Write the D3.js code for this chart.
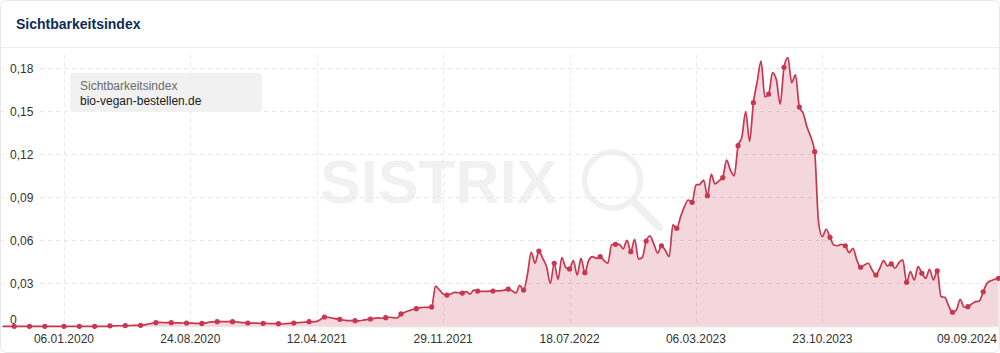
<!DOCTYPE html>
<html lang="de">
<head>
<meta charset="utf-8">
<title>Sichtbarkeitsindex</title>
<script src="https://cdn.jsdelivr.net/npm/d3@7"></script>
<style>
  body { margin: 0; background: #fff; }
  svg { display: block; font-family: "Liberation Sans", Arial, sans-serif; }
</style>
</head>
<body>
<svg id="chart"></svg>
<script>

// weekly Sichtbarkeitsindex values, first week = firstWeek
const firstWeek = "16.09.2019";
const weeklyIndex = [
  0, 0, 0, 0, 0, 0, 0, 0, 0, 0, 0, 0, 0, 0, 0, 0,
  0, 0, 0, 0, 0, 0, 0, 0, 0, 0, 0, 0,
  0.0003, 0.0003, 0.0004, 0.0004,
  0.0005, 0.0005, 0.0006, 0.0006,
  0.0007, 0.0010, 0.0015, 0.0021,
  0.0025, 0.0027, 0.0026, 0.0025,
  0.0025, 0.0024, 0.0024, 0.0023,
  0.0023, 0.0022, 0.0021, 0.0020,
  0.0020, 0.0024, 0.0029, 0.0031,
  0.0032, 0.0033, 0.0032, 0.0032,
  0.0032, 0.0030, 0.0027, 0.0025,
  0.0023, 0.0022, 0.0022, 0.0021,
  0.0021, 0.0020, 0.0019, 0.0018,
  0.0018, 0.0016, 0.0019, 0.0021,
  0.0023, 0.0026, 0.0028, 0.0029,
  0.0032, 0.0031, 0.0034, 0.0048,
  0.0065, 0.0063, 0.0058, 0.0052,
  0.0049, 0.0043, 0.0040, 0.0039,
  0.0039, 0.0038, 0.0042, 0.0047,
  0.0051, 0.0055, 0.0059, 0.0056,
  0.0060, 0.0063, 0.0060, 0.0058,
  0.0086, 0.0098, 0.0108, 0.0117,
  0.0123, 0.0130, 0.0133, 0.0132,
  0.0135, 0.0280, 0.0255, 0.0225,
  0.0218, 0.0225, 0.0236, 0.0234,
  0.0232, 0.0242, 0.0225, 0.0252,
  0.0246, 0.0244, 0.0243, 0.0245,
  0.0246, 0.0247, 0.0249, 0.0252,
  0.0260, 0.0248, 0.0232, 0.0285,
  0.0253, 0.0360, 0.0516, 0.0440,
  0.0525, 0.0474, 0.0416, 0.0300,
  0.0440, 0.0328, 0.0480, 0.0410,
  0.0400, 0.0458, 0.0358, 0.0474,
  0.0374, 0.0460, 0.0486, 0.0474,
  0.0486, 0.0458, 0.0440, 0.0570,
  0.0572, 0.0572, 0.0540, 0.0600,
  0.0520, 0.0607, 0.0470, 0.0480,
  0.0595, 0.0630, 0.0575, 0.0510,
  0.0562, 0.0530, 0.0486, 0.0707,
  0.0684, 0.0765, 0.0835, 0.0881,
  0.0865, 0.0986, 0.0990, 0.1020,
  0.0911, 0.1060, 0.0993, 0.1015,
  0.1037, 0.1160, 0.1090, 0.1050,
  0.1260, 0.1320, 0.1498, 0.1290,
  0.1560, 0.1707, 0.1850, 0.1600,
  0.1620, 0.1770, 0.1720, 0.1550,
  0.1807, 0.1875, 0.1700, 0.1754,
  0.1530, 0.1486, 0.1390, 0.1320,
  0.1218, 0.0730, 0.0625, 0.0677,
  0.0621, 0.0567, 0.0562, 0.0572,
  0.0562, 0.0514, 0.0544, 0.0463,
  0.0412, 0.0428, 0.0440, 0.0393,
  0.0358, 0.0405, 0.0458, 0.0421,
  0.0435, 0.0405, 0.0444, 0.0463,
  0.0307, 0.0381, 0.0323, 0.0416,
  0.0370, 0.0335, 0.0398, 0.0323,
  0.0386, 0.0207, 0.0202, 0.0142,
  0.0098, 0.0114, 0.0188, 0.0133,
  0.0137, 0.0156, 0.0172, 0.0177,
  0.0241, 0.0300, 0.0318, 0.0328,
  0.0335
];

const yTicks = [0, 0.03, 0.06, 0.09, 0.12, 0.15, 0.18];
const xTicks = ["06.01.2020", "24.08.2020", "12.04.2021", "29.11.2021",
                "18.07.2022", "06.03.2023", "23.10.2023", "09.09.2024"];
const legendTitle = "Sichtbarkeitsindex";
const legendDomain = "bio-vegan-bestellen.de";

const width = 1000, height = 353;
const lineColor = "#c8364f";

const parse = d3.timeParse("%d.%m.%Y");
const start = parse(firstWeek);
const data = weeklyIndex.map((v, i) => ({date: d3.timeDay.offset(start, 7 * i), value: v, week: i - 16}));

// markers: every 4th week from 06.01.2020, earlier ones shifted by a week
const markers = data.filter(d => d.week >= 0 ? d.week % 4 === 0 : (d.week < -1 && (d.week + 1) % 4 === 0));

const de = d3.formatLocale({decimal: ",", thousands: ".", grouping: [3], currency: ["", " €"]});
const fmt = v => v === 0 ? "0" : de.format(".2f")(v);

let svg = d3.select("#chart")
    .attr("width", width)
    .attr("height", height);

// card
svg.append("rect")
    .attr("x", 0.5).attr("y", 0.5)
    .attr("width", width - 1).attr("height", height - 1)
    .attr("rx", 6)
    .attr("fill", "#fff")
    .attr("stroke", "#e8e8e8");

svg.append("text")
    .attr("x", 16).attr("y", 29)
    .attr("font-size", 14).attr("font-weight", "bold")
    .attr("fill", "#0e2c5a")
    .text("Sichtbarkeitsindex");

svg.append("line")
    .attr("x1", 0).attr("x2", width)
    .attr("y1", 47.5).attr("y2", 47.5)
    .attr("stroke", "#ededed");

let x = d3.scaleTime()
    .domain([start, data[data.length - 1].date])
    .range([2.7, 998.5]);

let y = d3.scaleLinear()
    .domain([0, 0.18])
    .range([326.3, 68.3]);

// watermark
let wm = svg.append("g").attr("fill", "none").attr("stroke", "#f0f0f0");
wm.append("text")
    .attr("x", 320).attr("y", 203)
    .attr("font-size", 61).attr("font-weight", "bold")
    .attr("stroke", "none").attr("fill", "#f1f1f1")
    .text("SISTRIX");
wm.append("circle")
    .attr("cx", 612.5).attr("cy", 180).attr("r", 28)
    .attr("stroke-width", 5.5);
wm.append("line")
    .attr("x1", 634).attr("y1", 202).attr("x2", 659).attr("y2", 227)
    .attr("stroke-width", 8).attr("stroke-linecap", "round");

// grid
svg.append("g")
    .selectAll("line")
    .data(yTicks.filter(d => d > 0))
    .join("line")
    .attr("x1", 0).attr("x2", width)
    .attr("y1", d => Math.round(y(d)) + 0.5).attr("y2", d => Math.round(y(d)) + 0.5)
    .attr("stroke", "#e8e8e8")
    .attr("stroke-dasharray", "4,4");

svg.append("g")
    .selectAll("line")
    .data(xTicks.slice(0, -1))
    .join("line")
    .attr("x1", d => Math.round(x(parse(d))) + 0.5).attr("x2", d => Math.round(x(parse(d))) + 0.5)
    .attr("y1", 55).attr("y2", y(0))
    .attr("stroke", "#e8e8e8")
    .attr("stroke-dasharray", "4,4");

svg.append("line")
    .attr("x1", 0).attr("x2", width)
    .attr("y1", y(0) + 0.5).attr("y2", y(0) + 0.5)
    .attr("stroke", "#e6e6e6");

// area + line
let area = d3.area()
    .x(d => x(d.date))
    .y0(y(0))
    .y1(d => y(d.value))
    .curve(d3.curveMonotoneX);

let line = d3.line()
    .x(d => x(d.date))
    .y(d => y(d.value))
    .curve(d3.curveMonotoneX);

svg.append("path")
    .datum(data)
    .attr("d", area)
    .attr("fill", lineColor)
    .attr("fill-opacity", 0.2);

svg.append("path")
    .datum(data)
    .attr("d", line)
    .attr("fill", "none")
    .attr("stroke", lineColor)
    .attr("stroke-width", 1.7);

svg.append("g")
    .selectAll("circle")
    .data(markers)
    .join("circle")
    .attr("cx", d => x(d.date))
    .attr("cy", d => y(d.value))
    .attr("r", 2.6)
    .attr("fill", lineColor);

// y labels
let yl = svg.append("g")
    .selectAll("g")
    .data(yTicks)
    .join("g")
    .attr("transform", d => `translate(10, ${d === 0 ? y(d) - 7 : y(d)})`);
yl.filter(d => d > 0).append("rect")
    .attr("x", -3).attr("y", -7).attr("width", 29).attr("height", 14)
    .attr("fill", "#fff");
yl.append("text")
    .attr("dy", "0.35em")
    .attr("font-size", 12)
    .attr("fill", "#333")
    .text(fmt);

// x labels
svg.append("g")
    .selectAll("text")
    .data(xTicks)
    .join("text")
    .attr("x", (d, i) => i === xTicks.length - 1 ? 997 : x(parse(d)))
    .attr("y", 343)
    .attr("text-anchor", (d, i) => i === xTicks.length - 1 ? "end" : "middle")
    .attr("font-size", 12)
    .attr("fill", "#333")
    .text(d => d);

// legend
let lg = svg.append("g").attr("transform", "translate(70, 73)");
lg.append("rect")
    .attr("width", 192).attr("height", 39).attr("rx", 4)
    .attr("fill", "#f1f1f1");
lg.append("text")
    .attr("x", 10).attr("y", 17)
    .attr("font-size", 12).attr("fill", "#6b6b6b")
    .text(legendTitle);
lg.append("text")
    .attr("x", 10).attr("y", 32)
    .attr("font-size", 12).attr("fill", "#1a1a1a")
    .text(legendDomain);

</script>
</body>
</html>
